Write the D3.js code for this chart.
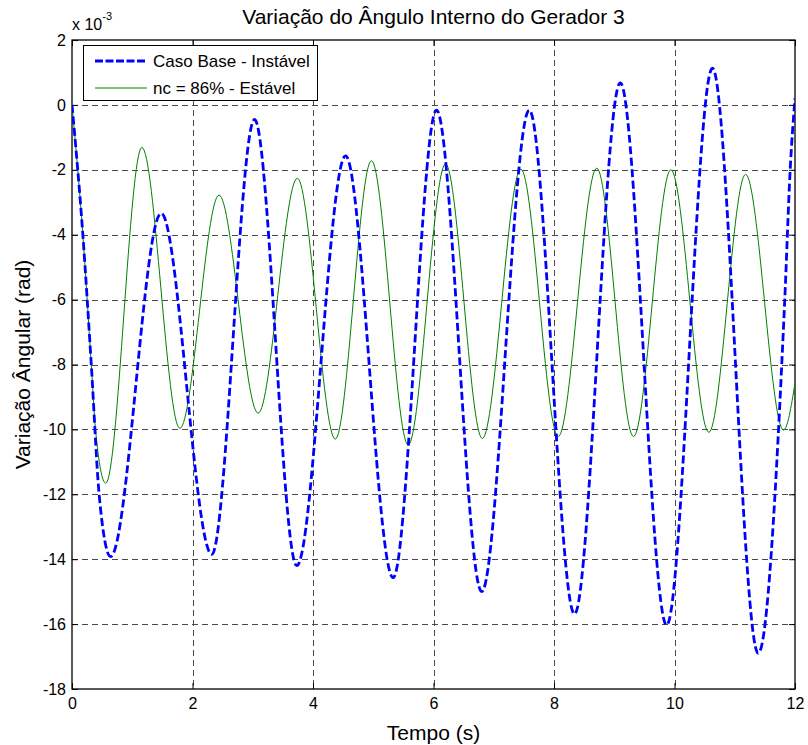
<!DOCTYPE html>
<html>
<head>
<meta charset="utf-8">
<script src="https://cdn.jsdelivr.net/npm/d3@7"></script>
<style>
  html, body { margin: 0; padding: 0; background: #fff; }
  svg { display: block; font-family: Arial, "Liberation Sans", sans-serif; }
</style>
</head>
<body>
<svg id="chart" width="808" height="745"></svg>
<script>
// Rotor angle deviation of generator 3 (values in 1e-3 rad)
const baseTime = [0, 0.18, 0.32, 0.45, 0.64, 1.48, 2.32, 3.03, 3.73, 4.54, 5.33, 6.05, 6.80, 7.59, 8.34, 9.10, 9.87, 10.63, 11.39, 11.83, 11.92, 12];
const baseValue = [0, -4, -8, -12, -13.92, -3.34, -13.85, -0.45, -14.2, -1.57, -14.57, -0.16, -15.0, -0.16, -15.69, 0.68, -16.03, 1.13, -16.9, -6, -2, 0.2];

const ncTime = [0, 0.18, 0.32, 0.39, 0.56, 1.16, 1.79, 2.44, 3.09, 3.74, 4.37, 4.97, 5.58, 6.20, 6.81, 7.45, 8.07, 8.71, 9.32, 9.94, 10.57, 11.18, 11.81, 12];
const ncValue = [0, -4, -8, -10, -11.66, -1.31, -9.97, -2.78, -9.5, -2.26, -10.3, -1.72, -10.48, -1.82, -10.28, -1.98, -10.22, -1.95, -10.22, -2.0, -10.09, -2.14, -10.02, -8.58];

const xTicks = [0, 2, 4, 6, 8, 10, 12];
const yTicks = [-18, -16, -14, -12, -10, -8, -6, -4, -2, 0, 2];

const seriesNames = ["Caso Base - Instável", "nc = 86% - Estável"];
const titleText = "Variação do Ângulo Interno do Gerador 3";
const xLabel = "Tempo (s)";
const yLabel = "Variação Ângular (rad)";

const svg = d3.select("#chart");
const plotLeft = 72, plotRight = 795, plotTop = 40, plotBottom = 689;

const x = d3.scaleLinear().domain([0, 12]).range([plotLeft, plotRight]);
const y = d3.scaleLinear().domain([-18, 2]).range([plotBottom, plotTop]);

// grid
const grid = svg.append("g")
  .attr("stroke", "#4a4a4a").attr("stroke-width", 1).attr("stroke-dasharray", "6,4");
grid.selectAll("line.v").data(xTicks.slice(1, -1)).join("line")
  .attr("x1", d => Math.round(x(d)) + 0.5).attr("x2", d => Math.round(x(d)) + 0.5)
  .attr("y1", plotTop).attr("y2", plotBottom);
grid.selectAll("line.h").data(yTicks.slice(1, -1)).join("line")
  .attr("y1", d => Math.round(y(d)) + 0.5).attr("y2", d => Math.round(y(d)) + 0.5)
  .attr("x1", plotLeft).attr("x2", plotRight);

// axes (ticks pointing inward, plain hyphen minus)
const fmt = d => String(d);
const axisFont = g => g.selectAll("text").attr("font-size", 16).attr("fill", "#000")
  .attr("font-family", "Arial, 'Liberation Sans', sans-serif");

svg.append("g").attr("transform", `translate(0,${plotBottom})`)
  .call(d3.axisBottom(x).tickValues(xTicks).tickSize(-6).tickPadding(9).tickFormat(fmt))
  .call(g => g.select(".domain").remove())
  .call(axisFont);
svg.append("g").attr("transform", `translate(0,${plotTop})`)
  .call(d3.axisTop(x).tickValues(xTicks).tickSize(-6).tickFormat(""))
  .call(g => g.select(".domain").remove());
svg.append("g").attr("transform", `translate(${plotLeft},0)`)
  .call(d3.axisLeft(y).tickValues(yTicks).tickSize(-6).tickPadding(6).tickFormat(fmt))
  .call(g => g.select(".domain").remove())
  .call(axisFont);
svg.append("g").attr("transform", `translate(${plotRight},0)`)
  .call(d3.axisRight(y).tickValues(yTicks).tickSize(-6).tickFormat(""))
  .call(g => g.select(".domain").remove());

svg.append("rect")
  .attr("x", plotLeft).attr("y", plotTop).attr("width", plotRight - plotLeft).attr("height", plotBottom - plotTop)
  .attr("fill", "none").attr("stroke", "#000").attr("stroke-width", 1.3);

// curves
svg.append("clipPath").attr("id", "plotclip")
  .append("rect").attr("x", plotLeft).attr("y", plotTop)
  .attr("width", plotRight - plotLeft).attr("height", plotBottom - plotTop);

const line = d3.line().x(d => x(d[0])).y(d => y(d[1])).curve(d3.curveMonotoneX);
const ncData = ncTime.map((t, i) => [t, ncValue[i]]);
const baseData = baseTime.map((t, i) => [t, baseValue[i]]);

const plot = svg.append("g").attr("clip-path", "url(#plotclip)");
plot.append("path").datum(ncData).attr("d", line)
  .attr("fill", "none").attr("stroke", "#008000").attr("stroke-width", 1);
plot.append("path").datum(baseData).attr("d", line)
  .attr("fill", "none").attr("stroke", "#0000ff").attr("stroke-width", 2.8)
  .attr("stroke-dasharray", "8,3.5");

// legend
const lg = svg.append("g");
lg.append("rect").attr("x", 83.5).attr("y", 45.5).attr("width", 234).attr("height", 55)
  .attr("fill", "#fff").attr("stroke", "#000").attr("stroke-width", 1);
lg.append("line").attr("x1", 95).attr("x2", 145).attr("y1", 61).attr("y2", 61)
  .attr("stroke", "#0000ff").attr("stroke-width", 2.8).attr("stroke-dasharray", "8,2.5");
lg.append("line").attr("x1", 95).attr("x2", 147).attr("y1", 88).attr("y2", 88)
  .attr("stroke", "#008000").attr("stroke-width", 1);
lg.selectAll("text").data(seriesNames).join("text")
  .attr("x", 153).attr("y", (d, i) => 67 + i * 27)
  .attr("font-size", 17).text(d => d);

// title and labels
svg.append("text").attr("x", (plotLeft + plotRight) / 2).attr("y", 24)
  .attr("text-anchor", "middle").attr("font-size", 21).text(titleText);
svg.append("text").attr("x", (plotLeft + plotRight) / 2).attr("y", 740)
  .attr("text-anchor", "middle").attr("font-size", 21).text(xLabel);
svg.append("text")
  .attr("transform", `translate(30,${(plotTop + plotBottom) / 2}) rotate(-90)`)
  .attr("text-anchor", "middle").attr("font-size", 21).text(yLabel);

// exponent marker
const ex = svg.append("text").attr("x", 72).attr("y", 30).attr("font-size", 16);
ex.append("tspan").text("x 10");
ex.append("tspan").attr("dy", -10).attr("font-size", 11).text("-3");
</script>
</body>
</html>
